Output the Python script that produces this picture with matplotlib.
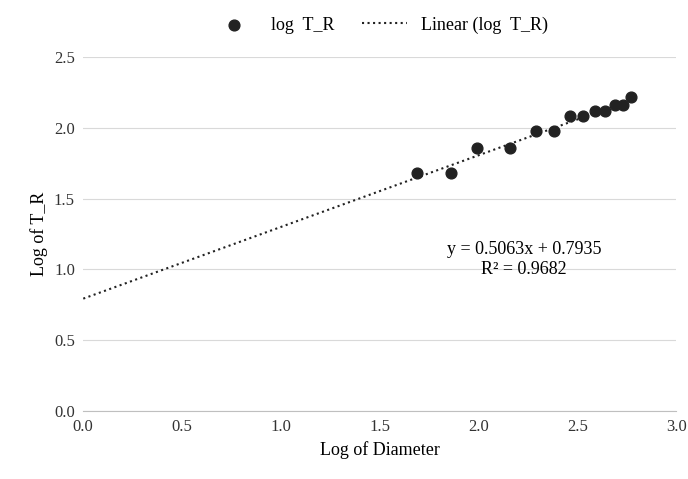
import numpy as np
import matplotlib
matplotlib.use("Agg")
import matplotlib.pyplot as plt

plt.rcParams['font.family'] = 'Liberation Serif'

log_diameter = [1.69, 1.86, 1.99, 2.16, 2.29, 2.38, 2.46, 2.53, 2.59, 2.64, 2.69, 2.73, 2.77]
log_tr = [1.68, 1.68, 1.86, 1.86, 1.98, 1.98, 2.08, 2.08, 2.12, 2.12, 2.16, 2.16, 2.22]
slope, intercept = 0.5063, 0.7935

fig = plt.figure(figsize=(6.88, 4.79), dpi=100)
ax = fig.add_axes([0.121, 0.142, 0.862, 0.739])

xx = np.array([0, max(log_diameter)])
line, = ax.plot(xx, slope * xx + intercept, ':', color='#222222', lw=1.5, label='Linear (log  T_R)', zorder=2)
pts = ax.scatter(log_diameter, log_tr, s=60, color='#222222', label='log  T_R', zorder=3)

ax.set_xlim(0, 3)
ax.set_ylim(0, 2.5)
ax.set_xticks(np.arange(0, 3.01, 0.5))
ax.set_yticks(np.arange(0, 2.51, 0.5))
ax.xaxis.set_major_formatter(matplotlib.ticker.FormatStrFormatter('%.1f'))
ax.yaxis.set_major_formatter(matplotlib.ticker.FormatStrFormatter('%.1f'))
ax.grid(axis='y', color='#d9d9d9', lw=0.8)
ax.set_axisbelow(True)
for s in ['top', 'right', 'left']:
    ax.spines[s].set_visible(False)
ax.spines['bottom'].set_color('#bfbfbf')
ax.tick_params(length=0, labelsize=12, colors='#333333', pad=6)
ax.set_xlabel('Log of Diameter', fontsize=13)
ax.set_ylabel('Log of T_R', fontsize=13)

ax.text(2.23, 1.07, 'y = 0.5063x + 0.7935\nR² = 0.9682', fontsize=13, ha='center', va='center', linespacing=1.3)

ax.legend([pts, line], ['log  T_R', 'Linear (log  T_R)'], loc='lower center', bbox_to_anchor=(0.5, 1.02),
          ncol=2, frameon=False, fontsize=13, handlelength=2.5, columnspacing=1.5)

fig.savefig('out.png', dpi=100)
